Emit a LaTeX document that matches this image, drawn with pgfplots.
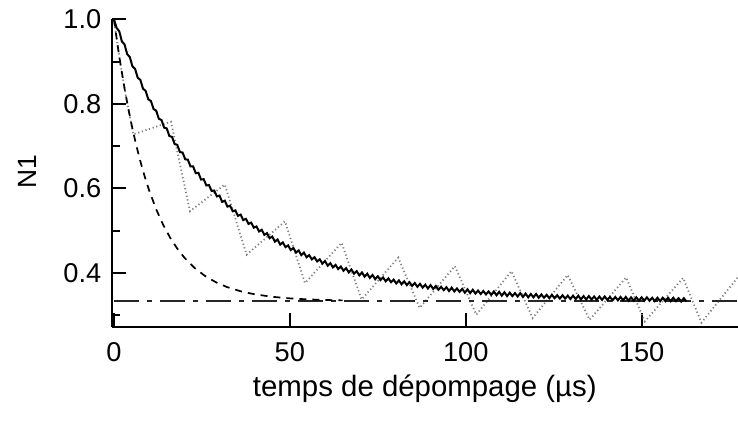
\documentclass[border=0pt]{standalone}
\usepackage{fontspec}
\setmainfont{Liberation Sans}
\usepackage{pgfplots}
\pgfplotsset{compat=1.18}
\begin{document}
\begin{tikzpicture}
\begin{axis}[
  scale only axis,
  width=313.15pt, height=153.6pt,
  xmin=-0.65, xmax=177.4, ymin=0.2725, ymax=1.0,
  axis lines=left,
  axis line style={-, line width=1pt},
  tick align=inside,
  xtick={0,50,100,150},
  ytick={0.4,0.6,0.8,1.0},
  minor ytick={0.3,0.5,0.7,0.9},
  major tick length=7pt, minor tick length=4pt,
  every tick/.style={black, line width=1pt},
  clip=false,
  /pgf/number format/assume math mode=true,
  ticklabel style={font=\fontsize{13.6}{16}\selectfont, inner sep=0pt},
  yticklabel style={anchor=east, xshift=-5pt,
    /pgf/number format/fixed, /pgf/number format/fixed zerofill,
    /pgf/number format/precision=1},
  xticklabel style={anchor=base, yshift=-17.5pt},
  xlabel={temps de dépompage (µs)},
  ylabel={N1},
  xlabel style={font=\fontsize{14.7}{17}\selectfont, inner sep=0pt,
    at={(axis description cs:0.5,0)}, anchor=base, yshift=-35pt},
  ylabel style={font=\fontsize{13.2}{16}\selectfont, inner sep=0pt,
    at={(axis description cs:0,0.505)}, anchor=center, yshift=42pt},
]
% dotted gray sawtooth
\addplot[black!50, line width=0.9pt, dash pattern=on 0.6pt off 1.3pt] coordinates {
(0,1.0) (1,0.94) (2,0.886) (3,0.837) (4,0.792) (5.5,0.728) (16.2,0.758)
(21.6,0.546) (31.5,0.609) (37.7,0.443) (48.6,0.522) (54.3,0.376) (64.7,0.471)
(70.4,0.337) (80.8,0.436) (86.9,0.317) (96.9,0.416) (103,0.301) (113,0.404)
(119,0.293) (129,0.395) (135.2,0.289) (145.6,0.389) (150.9,0.285) (161.8,0.388)
(167,0.282) (177.4,0.39)};
% asymptote 1/3
\addplot[black!85, line width=0.8pt, dash pattern=on 12.5pt off 4pt on 2.5pt off 4pt] coordinates {
(0,0.3333) (177.4,0.3333)};
% fast decay, dashed
\addplot[black, line width=0.85pt, dash pattern=on 3.5pt off 3pt] coordinates {
(0,1.0) (1,0.9405) (2,0.8863) (3,0.8370) (4,0.7921) (5,0.7511) (6,0.7139)
(7,0.6799) (8,0.6490) (9,0.6208) (10,0.5952) (12,0.5505) (14,0.5135)
(16,0.4828) (18,0.4573) (20,0.4362) (23,0.4110) (26,0.3920) (29,0.3777)
(32,0.3668) (36,0.3564) (40,0.3492) (45,0.3433) (50,0.3396) (55,0.3372)
(60,0.3358) (65,0.3348)};
% slow decay with ripple, solid
\addplot[black, line width=1pt] coordinates {
(0,1.000) (0.75,0.980) (1.5,0.972) (2.25,0.948)
(3,0.941) (3.75,0.918) (4.5,0.911) (5.25,0.889)
(6,0.883) (6.75,0.862) (7.5,0.857) (8.25,0.836)
(9,0.831) (9.75,0.811) (10.5,0.807) (11.25,0.788)
(12,0.784) (12.75,0.765) (13.5,0.762) (14.25,0.744)
(15,0.742) (15.75,0.724) (16.5,0.722) (17.25,0.705)
(18,0.703) (18.75,0.686) (19.5,0.685) (20.25,0.669)
(21,0.668) (21.75,0.652) (22.5,0.652) (23.25,0.636)
(24,0.637) (24.75,0.621) (25.5,0.622) (26.25,0.607)
(27,0.608) (27.75,0.594) (28.5,0.595) (29.25,0.581)
(30,0.583) (30.75,0.568) (31.5,0.571) (32.25,0.557)
(33,0.559) (33.75,0.546) (34.5,0.548) (35.25,0.535)
(36,0.538) (36.75,0.525) (37.5,0.528) (38.25,0.516)
(39,0.519) (39.75,0.507) (40.5,0.510) (41.25,0.498)
(42,0.502) (42.75,0.490) (43.5,0.494) (44.25,0.482)
(45,0.486) (45.75,0.474) (46.5,0.479) (47.25,0.467)
(48,0.472) (48.75,0.461) (49.5,0.465) (50.25,0.454)
(51,0.459) (51.75,0.448) (52.5,0.453) (53.25,0.442)
(54,0.448) (54.75,0.437) (55.5,0.442) (56.25,0.432)
(57,0.437) (57.75,0.427) (58.5,0.432) (59.25,0.422)
(60,0.428) (60.75,0.417) (61.5,0.423) (62.25,0.413)
(63,0.419) (63.75,0.409) (64.5,0.415) (65.25,0.405)
(66,0.411) (66.75,0.401) (67.5,0.408) (68.25,0.398)
(69,0.404) (69.75,0.394) (70.5,0.401) (71.25,0.391)
(72,0.398) (72.75,0.388) (73.5,0.395) (74.25,0.385)
(75,0.392) (75.75,0.383) (76.5,0.389) (77.25,0.380)
(78,0.387) (78.75,0.378) (79.5,0.384) (80.25,0.375)
(81,0.382) (81.75,0.373) (82.5,0.380) (83.25,0.371)
(84,0.378) (84.75,0.369) (85.5,0.376) (86.25,0.367)
(87,0.374) (87.75,0.365) (88.5,0.372) (89.25,0.363)
(90,0.371) (90.75,0.362) (91.5,0.369) (92.25,0.360)
(93,0.367) (93.75,0.359) (94.5,0.366) (95.25,0.357)
(96,0.365) (96.75,0.356) (97.5,0.363) (98.25,0.355)
(99,0.362) (99.75,0.353) (100.5,0.361) (101.25,0.352)
(102,0.360) (102.75,0.351) (103.5,0.358) (104.25,0.350)
(105,0.357) (105.75,0.349) (106.5,0.356) (107.25,0.348)
(108,0.356) (108.75,0.347) (109.5,0.355) (110.25,0.346)
(111,0.354) (111.75,0.345) (112.5,0.353) (113.25,0.345)
(114,0.352) (114.75,0.344) (115.5,0.352) (116.25,0.343)
(117,0.351) (117.75,0.342) (118.5,0.350) (119.25,0.342)
(120,0.350) (120.75,0.341) (121.5,0.349) (122.25,0.341)
(123,0.348) (123.75,0.340) (124.5,0.348) (125.25,0.340)
(126,0.347) (126.75,0.339) (127.5,0.347) (128.25,0.339)
(129,0.346) (129.75,0.338) (130.5,0.346) (131.25,0.338)
(132,0.346) (132.75,0.337) (133.5,0.345) (134.25,0.337)
(135,0.345) (135.75,0.337) (136.5,0.344) (137.25,0.336)
(138,0.344) (138.75,0.336) (139.5,0.344) (140.25,0.336)
(141,0.343) (141.75,0.335) (142.5,0.343) (143.25,0.335)
(144,0.343) (144.75,0.335) (145.5,0.343) (146.25,0.334)
(147,0.342) (147.75,0.334) (148.5,0.342) (149.25,0.334)
(150,0.342) (150.75,0.334) (151.5,0.342) (152.25,0.334)
(153,0.341) (153.75,0.333) (154.5,0.341) (155.25,0.333)
(156,0.341) (156.75,0.333) (157.5,0.341) (158.25,0.333)
(159,0.341) (159.75,0.333) (160.5,0.340) (161.25,0.332)
(162,0.340) (162.75,0.332)};
\coordinate (bl) at (rel axis cs:0,0);
\coordinate (tr) at (rel axis cs:1,1);
\end{axis}
\pgfresetboundingbox
\path ([shift={(-55.85pt,-48.15pt)}]bl) rectangle ([shift={(0pt,9.75pt)}]tr);
\end{tikzpicture}
\end{document}
